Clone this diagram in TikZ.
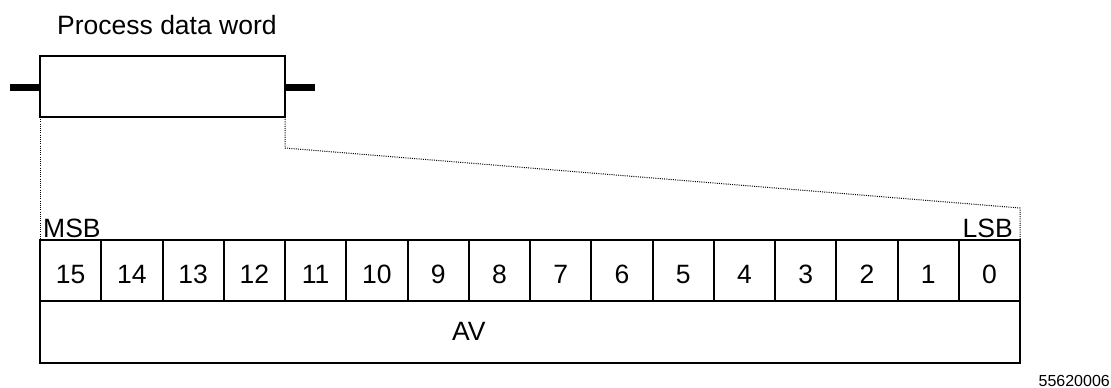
\documentclass[tikz,border=0pt]{standalone}
\usepackage{fontspec}
\setmainfont{Liberation Sans}
\begin{document}
\begin{tikzpicture}[x=1pt,y=-1pt,
  frame/.style={draw,line width=2pt,inner sep=0pt,outer sep=0pt},
  cell/.style={frame,minimum width=61.25pt,minimum height=61pt,text height=25pt,text depth=0pt,font=\fontsize{26.5}{30}\selectfont},
  lbl/.style={inner sep=0pt,font=\fontsize{26.5}{30}\selectfont},
  dots/.style={line width=1pt,dash pattern=on 1pt off 1.2pt}]
\useasboundingbox (0,0) rectangle (1111,388);
% process data word box
\node[frame,minimum width=245pt,minimum height=61pt] (pdw) at (162.5,86.5) {};
\node[lbl,anchor=base west] (title) at (57,34) {Process data word};
\coordinate (lbar) at (10,87);
\coordinate (rbar) at (315,87);
\draw[line width=7pt] (lbar) -- (lbar -| pdw.west);
\draw[line width=7pt] (rbar -| pdw.east) -- (rbar);
% bits
\foreach \i in {0,...,15}{
  \pgfmathtruncatemacro{\n}{15-\i}
  \node[cell] (b\n) at ({40+61.25*\i+30.625},270.5) {\n};
}
\node[frame,minimum width=980pt,minimum height=62pt] (av) at (530,332) {};
\node[lbl,anchor=base] (avtext) at (468.75,340) {AV};
\node[lbl,anchor=base west] (msb) at (43,237) {MSB};
\node[lbl,anchor=base east] (lsb) at (1013,237) {LSB};
\node[inner sep=0pt,anchor=base east,font=\fontsize{16}{19}\selectfont] (id) at (1110,386) {55620006};
% dotted zoom lines
\coordinate (kink) at (285,148);
\coordinate (bend) at (1020,208);
\draw[dots] (pdw.south west) -- (b15.north west);
\draw[dots] (pdw.south east) -- (kink) -- (bend) -- (b0.north east);
\end{tikzpicture}
\end{document}
